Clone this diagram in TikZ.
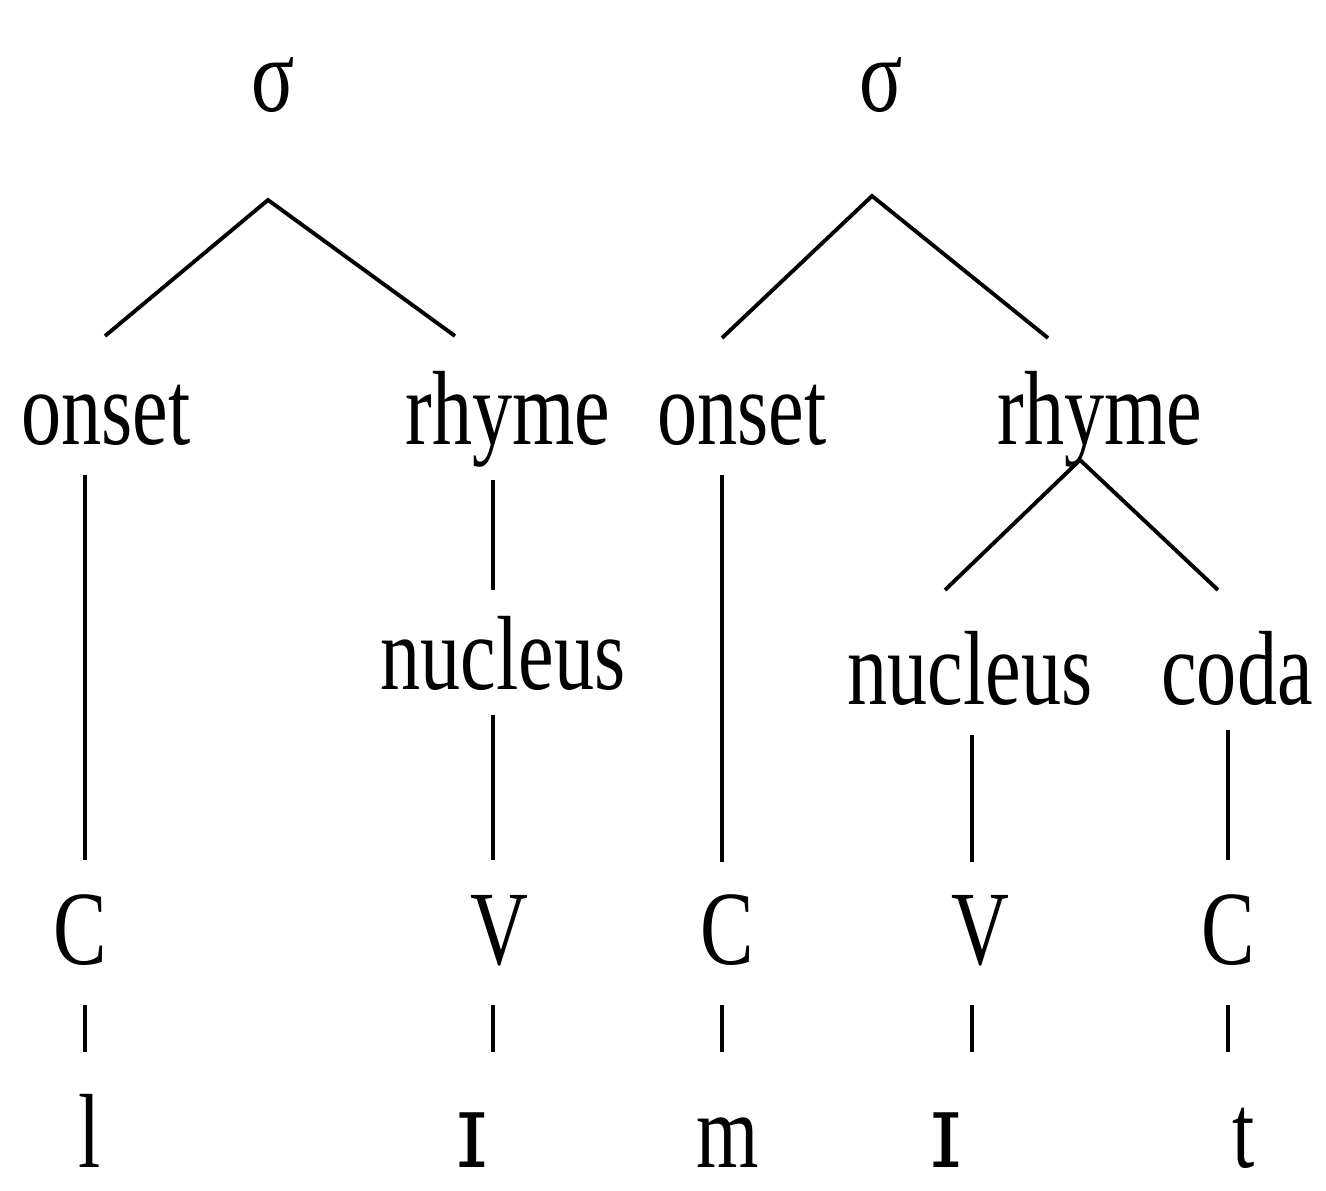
\documentclass[tikz,border=0pt]{standalone}
\usepackage{fontspec}
\setmainfont[FakeStretch=0.76]{Liberation Serif}
\newfontfamily\ipafont[FakeStretch=0.9]{DejaVu Serif}
\usepackage{tikz}

\begin{document}
\begin{tikzpicture}[x=0.01cm, y=-0.01cm,
    lbl/.style={anchor=base, inner sep=0pt, font=\fontsize{30}{36}\selectfont},
    branch/.style={line width=1.1pt}]
  \useasboundingbox (0,0) rectangle (1326,1191);
  % first syllable
  \node[lbl] (sig1) at (273,112) {σ};
  \node[lbl] (ons1) at (106,445) {onset};
  \node[lbl] (rhy1) at (508,445) {rhyme};
  \node[lbl] (nuc1) at (503,690) {nucleus};
  \node[lbl] (C1) at (80,965) {C};
  \node[lbl] (V1) at (499,965) {V};
  \node[lbl] (l1) at (90,1168) {l};
  \node[lbl] (i1) at (472,1168) {\ipafont ɪ};
  % second syllable
  \node[lbl] (sig2) at (881,112) {σ};
  \node[lbl] (ons2) at (742,445) {onset};
  \node[lbl] (rhy2) at (1100,445) {rhyme};
  \node[lbl] (nuc2) at (970,705) {nucleus};
  \node[lbl] (cod2) at (1237,705) {coda};
  \node[lbl] (C2) at (727,965) {C};
  \node[lbl] (V2) at (980,965) {V};
  \node[lbl] (C3) at (1228,965) {C};
  \node[lbl] (m2) at (728,1168) {m};
  \node[lbl] (i2) at (946,1168) {\ipafont ɪ};
  \node[lbl] (t2) at (1244,1168) {t};
  % branch points
  \coordinate (sig1-top) at (268,200);
  \coordinate (sig1-l) at (105,336);
  \coordinate (sig1-r) at (455,336);
  \coordinate (sig2-top) at (872,196);
  \coordinate (sig2-l) at (722,338);
  \coordinate (sig2-r) at (1048,338);
  \coordinate (rhy2-top) at (1080,460);
  \coordinate (rhy2-l) at (945,590);
  \coordinate (rhy2-r) at (1218,590);
  % line ends
  \coordinate (ons1-b) at (85,475);   \coordinate (C1-t) at (85,860);
  \coordinate (C1-b) at (85,1005);    \coordinate (l1-t) at (85,1052);
  \coordinate (rhy1-b) at (493,480);  \coordinate (nuc1-t) at (493,590);
  \coordinate (nuc1-b) at (493,715);  \coordinate (V1-t) at (493,860);
  \coordinate (V1-b) at (493,1005);   \coordinate (i1-t) at (493,1052);
  \coordinate (ons2-b) at (722,475);  \coordinate (C2-t) at (722,862);
  \coordinate (C2-b) at (722,1005);   \coordinate (m2-t) at (722,1052);
  \coordinate (nuc2-b) at (972,735);  \coordinate (V2-t) at (972,862);
  \coordinate (V2-b) at (972,1005);   \coordinate (i2-t) at (972,1052);
  \coordinate (cod2-b) at (1228,730); \coordinate (C3-t) at (1228,860);
  \coordinate (C3-b) at (1228,1005);  \coordinate (t2-t) at (1228,1052);
  % connectors
  \draw[branch] (sig1-l) -- (sig1-top) -- (sig1-r);
  \draw[branch] (sig2-l) -- (sig2-top) -- (sig2-r);
  \draw[branch] (rhy2-l) -- (rhy2-top) -- (rhy2-r);
  \draw[branch] (ons1-b) -- (C1-t);
  \draw[branch] (C1-b) -- (l1-t);
  \draw[branch] (rhy1-b) -- (nuc1-t);
  \draw[branch] (nuc1-b) -- (V1-t);
  \draw[branch] (V1-b) -- (i1-t);
  \draw[branch] (ons2-b) -- (C2-t);
  \draw[branch] (C2-b) -- (m2-t);
  \draw[branch] (nuc2-b) -- (V2-t);
  \draw[branch] (V2-b) -- (i2-t);
  \draw[branch] (cod2-b) -- (C3-t);
  \draw[branch] (C3-b) -- (t2-t);
\end{tikzpicture}
\end{document}
